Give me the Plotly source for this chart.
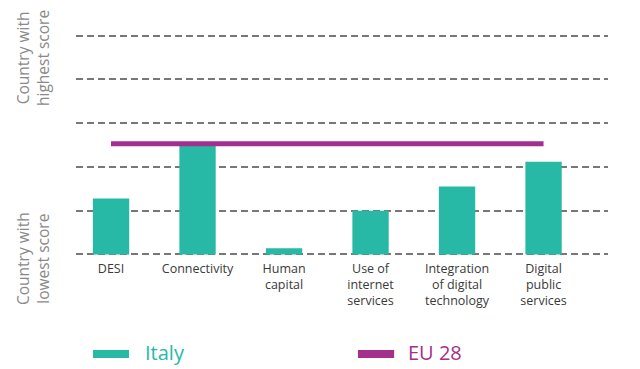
import plotly.graph_objects as go

categories = ["DESI", "Connectivity", "Human<br>capital", "Use of<br>internet<br>services",
              "Integration<br>of digital<br>technology", "Digital<br>public<br>services"]
italy = [1.28, 2.51, 0.14, 1.0, 1.55, 2.12]
eu28 = [2.53] * 6

TEAL = "#27b9a6"
MAGENTA = "#a3308d"
FONT = "Open Sans"

fig = go.Figure()
fig.add_trace(go.Bar(x=list(range(6)), y=italy, marker_color=TEAL, width=0.42,
                     marker_line_width=0, showlegend=False))
fig.add_trace(go.Scatter(x=list(range(6)), y=eu28, mode="lines",
                         line=dict(color=MAGENTA, width=5), showlegend=False))

fig.update_xaxes(range=[-0.405, 5.745], tickmode="array", tickvals=list(range(6)),
                 ticktext=categories, showgrid=False, zeroline=False, showline=False,
                 ticks="", ticklabelstandoff=2,
                 tickfont=dict(family=FONT, size=12.5, color="#3a3a3a"))
fig.update_yaxes(range=[-0.06, 5.06], tickvals=[0, 1, 2, 3, 4, 5], showticklabels=False,
                 showgrid=True, gridcolor="#777777", gridwidth=1.6, griddash="7px,4px",
                 zeroline=False, showline=False)

ann = [
    dict(text="Country with<br>highest score", x=-0.081, y=0.888, xref="paper", yref="paper",
         xanchor="center", yanchor="middle",
         textangle=-90, showarrow=False, font=dict(family=FONT, size=15.5, color="#8a8a8a")),
    dict(text="Country with<br>lowest score", x=-0.081, y=-0.005, xref="paper", yref="paper",
         xanchor="center", yanchor="middle",
         textangle=-90, showarrow=False, font=dict(family=FONT, size=15.5, color="#8a8a8a")),
    dict(text="Italy", x=0.126, y=-0.428, xref="paper", yref="paper", xanchor="left",
         yanchor="middle", showarrow=False, font=dict(family=FONT, size=20, color=TEAL)),
    dict(text="EU 28", x=0.620, y=-0.428, xref="paper", yref="paper", xanchor="left",
         yanchor="middle", showarrow=False, font=dict(family=FONT, size=20, color=MAGENTA)),
]
shapes = [
    dict(type="rect", xref="paper", yref="paper", x0=0.032, x1=0.0996, y0=-0.451, y1=-0.415,
         fillcolor=TEAL, line_width=0),
    dict(type="rect", xref="paper", yref="paper", x0=0.530, x1=0.598, y0=-0.451, y1=-0.415,
         fillcolor=MAGENTA, line_width=0),
]

# page body has an 8px default margin: size/margins compensate so the plot lands at 76..608 x 36..255
fig.update_layout(width=624, height=361, margin=dict(l=68, r=24, t=25, b=112),
                  plot_bgcolor="white", paper_bgcolor="white",
                  annotations=ann, shapes=shapes, font=dict(family=FONT))
fig.write_html("out.html")
